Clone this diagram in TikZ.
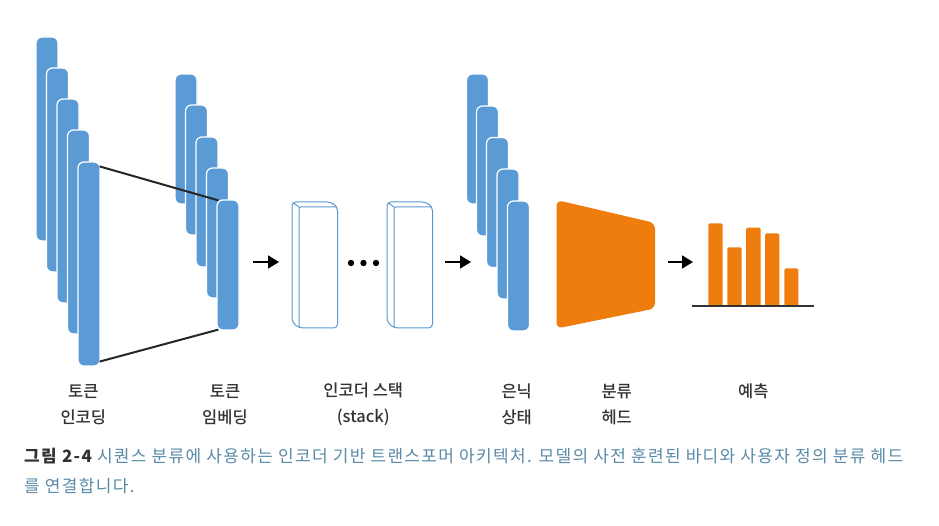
\documentclass[tikz,border=0pt]{standalone}
\usepackage{fontspec}
\setmainfont{Noto Sans CJK KR}
\IfFontExistsTF{Noto Sans CJK KR Medium}{\newfontfamily\labfont{Noto Sans CJK KR Medium}}{\newfontfamily\labfont{Noto Sans CJK KR}}
\newfontfamily\capfont[LetterSpace=7.8]{Noto Sans CJK KR}
\usetikzlibrary{arrows.meta}
\definecolor{barblue}{HTML}{5B9BD5}
\definecolor{headorange}{HTML}{EE7D0E}
\definecolor{captxt}{HTML}{5A8AA8}
\definecolor{labtxt}{HTML}{333333}
\tikzset{
  vecbar/.style={draw=white, line width=1.2pt, fill=barblue, rounded corners=6pt, minimum width=22pt, inner sep=0pt},
  tokbar/.style={vecbar, minimum height=204pt},
  embbar/.style={vecbar, minimum height=130pt},
  flowarrow/.style={line width=1.8pt, -{Triangle[length=11pt,width=13pt]}},
  linkline/.style={line width=2pt, black!85},
  encface/.style={draw=barblue, line width=1pt, fill=white, rounded corners=4pt},
  encline/.style={draw=barblue, line width=1pt},
  lab/.style={text=labtxt, align=center, font=\labfont\fontsize{16.5}{26}\selectfont},
  capt/.style={anchor=base west, inner sep=0pt, font=\capfont\fontsize{17}{20}\selectfont},
  probbar/.style={fill=headorange, rounded corners=1.5pt}
}
\begin{document}
\begin{tikzpicture}[x=1pt,y=-1pt]
\useasboundingbox[fill=white] (0,0) rectangle (939,526);
% token encodings
\foreach \i/\x/\y in {1/47/139,2/57.5/170,3/68/201,4/78.5/232,5/89/264}{
  \node[tokbar] (t\i) at (\x,\y) {};
}
% token embeddings
\foreach \i/\x/\y in {1/186/139,2/196.5/170,3/207/202,4/217.5/233,5/228/265}{
  \node[embbar] (e\i) at (\x,\y) {};
}
\draw[linkline] ([xshift=-1pt,yshift=-5pt]t5.north east) -- ([xshift=2pt,yshift=-1pt]e5.north west);
\draw[linkline] ([xshift=-1pt,yshift=5pt]t5.south east) -- ([xshift=2pt,yshift=1pt]e5.south west);
% arrow 1
\coordinate (a1s) at (253,262);
\coordinate (a1e) at (279,262);
\draw[flowarrow] (a1s) -- (a1e);
% encoder boxes
\foreach \dx [count=\k] in {0,95}{
  \begin{scope}[xshift=\dx pt]
    \draw[encface] (299,328) -- (292,322) -- (292,202) -- (331,202) -- (337.5,207) -- (337.5,328) -- cycle;
    \draw[encline, rounded corners=2pt] (299,328) -- (299,207) -- (337,207);
    \draw[encline] (293,202.8) -- (299,207);
    \node[inner sep=0pt, minimum width=38pt, minimum height=121pt] (enc\k) at (315,265) {};
  \end{scope}
}
\foreach \x [count=\k] in {351,363.5,376}{
  \fill (\x,263) circle (3.2pt);
}
% arrow 2
\coordinate (a2s) at (445,262);
\coordinate (a2e) at (471,262);
\draw[flowarrow] (a2s) -- (a2e);
% hidden states
\foreach \i/\x/\y in {1/477.5/139,2/487.5/171,3/497.5/202.5,4/508/234,5/518.5/266}{
  \node[embbar] (h\i) at (\x,\y) {};
}
% classification head
\fill[headorange, rounded corners=6pt] (556.5,200) -- (655,223) -- (655,308.5) -- (556.5,328.5) -- cycle;
% arrow 3
\coordinate (a3s) at (668,262);
\coordinate (a3e) at (693,262);
\draw[flowarrow] (a3s) -- (a3e);
% prediction bars
\fill[probbar] (708.3,306) -- (708.3,223.3) -- (722.7,223.3) -- (722.7,306) -- cycle;
\fill[probbar] (727.3,306) -- (727.3,247.3) -- (741.7,247.3) -- (741.7,306) -- cycle;
\fill[probbar] (746,306) -- (746,227.7) -- (760.7,227.7) -- (760.7,306) -- cycle;
\fill[probbar] (765,306) -- (765,233.3) -- (779.3,233.3) -- (779.3,306) -- cycle;
\fill[probbar] (784.3,306) -- (784.3,268.3) -- (798.3,268.3) -- (798.3,306) -- cycle;
\coordinate (bl) at (691.5,306);
\coordinate (br) at (813.5,306);
\draw[line width=1.6pt, black!80] (bl) -- (br);
% labels
\node[lab] (l1) at (83.3,404.5) {토큰\\인코딩};
\node[lab] (l2) at (225,404.5) {토큰\\임베딩};
\node[lab] (l3) at (363.3,404.5) {인코더 스택\\(stack)};
\node[lab] (l4) at (516.7,404.5) {은닉\\상태};
\node[lab] (l5) at (616.7,404.5) {분류\\헤드};
\node[lab] (l6) at (753.3,391.5) {예측};
% caption
\node[capt] (c1) at (24,462.5) {\textcolor{labtxt}{\bfseries 그림 2-4} \textcolor{captxt}{시퀀스 분류에 사용하는 인코더 기반 트랜스포머 아키텍처. 모델의 사전 훈련된 바디와 사용자 정의 분류 헤드}};
\node[capt, text=captxt] (c2) at (24,492) {를 연결합니다.};
\end{tikzpicture}
\end{document}
